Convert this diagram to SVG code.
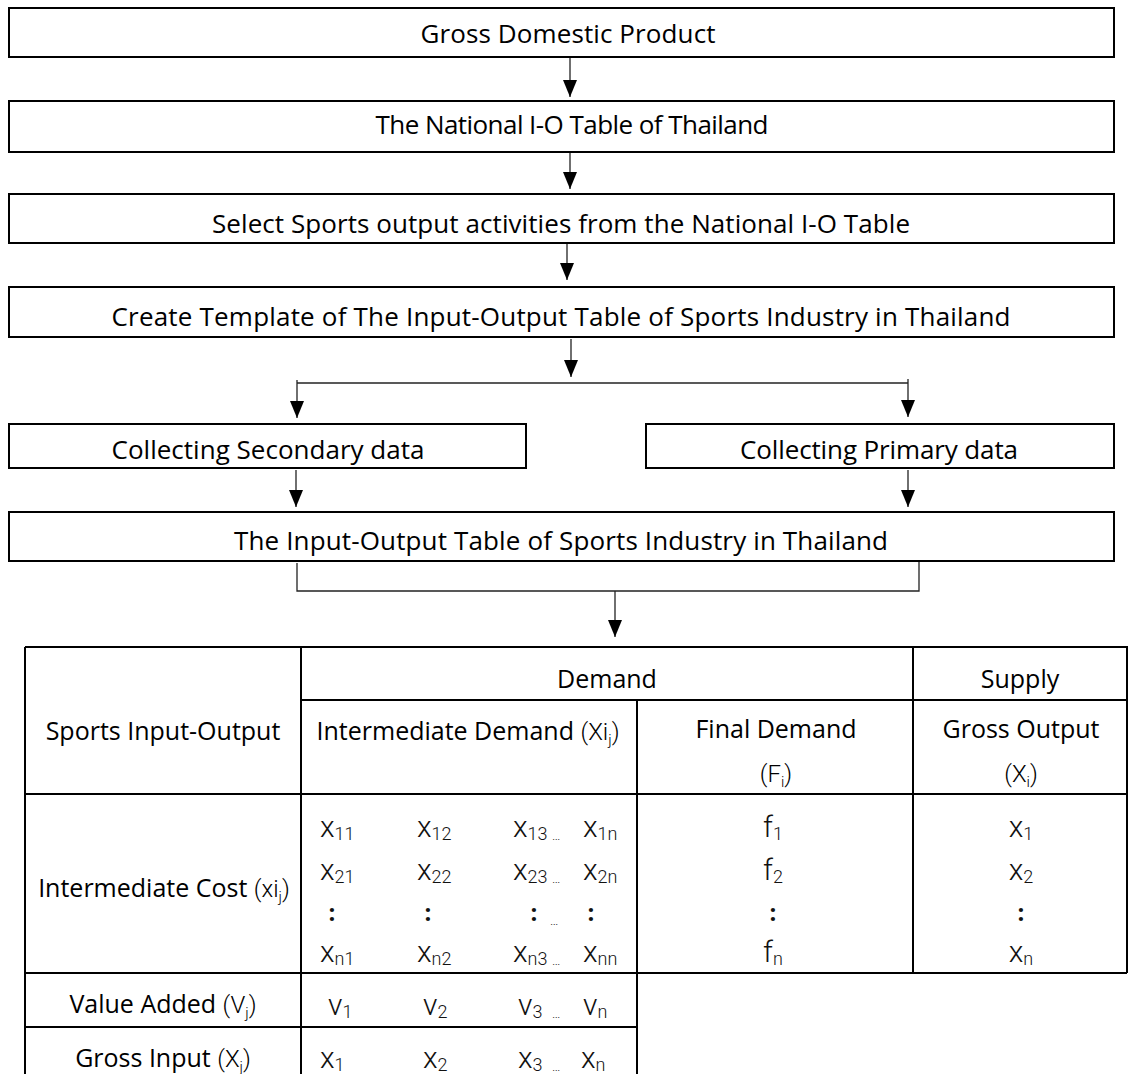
<svg xmlns="http://www.w3.org/2000/svg" width="1129" height="1074" viewBox="0 0 1129 1074">
<style>
.box{fill:#fff;stroke:#000;stroke-width:2}
.t{font-family:'Open Sans','Noto Sans','DejaVu Sans',sans-serif;font-weight:500;font-size:26px;fill:#000;text-anchor:middle}
.tl{font-family:'Open Sans','Noto Sans','DejaVu Sans',sans-serif;font-weight:500;font-size:25px;fill:#000;text-anchor:middle}
.lt{font-family:Roboto,'Open Sans',sans-serif;font-weight:300;font-size:24px}
.sb{font-family:Roboto,'Open Sans',sans-serif;font-weight:300;font-size:15px}
.d{font-family:Roboto,'Open Sans',sans-serif;font-weight:300;font-size:30px;fill:#111}
.ds{font-size:18px}
.dm{text-anchor:middle}
.el{font-family:Roboto,sans-serif;font-weight:300;font-size:13px;fill:#111}
.co{font-family:'Open Sans',sans-serif;font-weight:700;font-size:24px;fill:#111;text-anchor:middle}
.c{stroke:#222;stroke-width:1.3;fill:none}
.tb{stroke:#000;stroke-width:2;fill:none}
</style>
<defs>
<marker id="ah" viewBox="0 0 17 14" refX="17" refY="7" markerWidth="17" markerHeight="14" markerUnits="userSpaceOnUse" orient="auto">
<path d="M0,0 L17,7 L0,14 z" fill="#000"/>
</marker>
</defs>
<rect width="1129" height="1074" fill="#fff"/>

<g id="connectors">
<line class="c" x1="570" y1="58" x2="570" y2="97" marker-end="url(#ah)"/>
<line class="c" x1="570" y1="153" x2="570" y2="189" marker-end="url(#ah)"/>
<line class="c" x1="567" y1="244" x2="567" y2="280" marker-end="url(#ah)"/>
<line class="c" x1="571" y1="339" x2="571" y2="377" marker-end="url(#ah)"/>
<line class="c" x1="297" y1="383" x2="908" y2="383"/>
<line class="c" x1="297" y1="380" x2="297" y2="418" marker-end="url(#ah)"/>
<line class="c" x1="908" y1="379" x2="908" y2="417" marker-end="url(#ah)"/>
<line class="c" x1="296" y1="470" x2="296" y2="507" marker-end="url(#ah)"/>
<line class="c" x1="908" y1="470" x2="908" y2="507" marker-end="url(#ah)"/>
<path class="c" d="M297,563 V591 H919 V561"/>
<line class="c" x1="615" y1="591" x2="615" y2="637" marker-end="url(#ah)"/>
</g>

<g id="n1"><rect class="box" x="9" y="8" width="1105" height="49"/><text class="t" x="568" y="43" textLength="295">Gross Domestic Product</text></g>
<g id="n2"><rect class="box" x="9" y="101" width="1105" height="51"/><text class="t" x="572" y="134" textLength="393">The National I-O Table of Thailand</text></g>
<g id="n3"><rect class="box" x="9" y="194" width="1105" height="49"/><text class="t" x="561" y="233" textLength="698">Select Sports output activities from the National I-O Table</text></g>
<g id="n4"><rect class="box" x="9" y="287" width="1105" height="50"/><text class="t" x="561" y="326" textLength="899">Create Template of The Input-Output Table of Sports Industry in Thailand</text></g>
<g id="n5"><rect class="box" x="9" y="424" width="517" height="44"/><text class="t" x="268" y="459" textLength="313">Collecting Secondary data</text></g>
<g id="n6"><rect class="box" x="646" y="424" width="468" height="44"/><text class="t" x="879" y="459" textLength="278">Collecting Primary data</text></g>
<g id="n7"><rect class="box" x="9" y="512" width="1105" height="49"/><text class="t" x="561" y="550" textLength="654">The Input-Output Table of Sports Industry in Thailand</text></g>

<g id="table">
<path class="tb" d="M25,647 H1127 V973 M25,647 V1080 M301,647 V1080 M637,700 V1080 M913,647 V973 M301,700 H1127 M25,794 H1127 M25,973 H1127 M25,1027 H637"/>
<text class="tl" x="607" y="688">Demand</text>
<text class="tl" x="1020" y="688">Supply</text>
<text class="tl" x="163" y="740">Sports Input-Output</text>
<text class="tl" x="468" y="740">Intermediate Demand <tspan class="lt">(Xi</tspan><tspan class="sb" dy="5">j</tspan><tspan class="lt" dy="-5">)</tspan></text>
<text class="tl" x="776" y="738">Final Demand</text>
<text class="tl" x="776" y="782"><tspan class="lt">(F</tspan><tspan class="sb" dy="5">i</tspan><tspan class="lt" dy="-5">)</tspan></text>
<text class="tl" x="1021" y="738">Gross Output</text>
<text class="tl" x="1021" y="782"><tspan class="lt">(X</tspan><tspan class="sb" dy="5">i</tspan><tspan class="lt" dy="-5">)</tspan></text>

<text class="tl" x="164" y="897">Intermediate Cost <tspan class="lt">(xi</tspan><tspan class="sb" dy="5">j</tspan><tspan class="lt" dy="-5">)</tspan></text>
<text class="tl" x="163" y="1013">Value Added <tspan class="lt">(V</tspan><tspan class="sb" dy="5">j</tspan><tspan class="lt" dy="-5">)</tspan></text>
<text class="tl" x="163" y="1067">Gross Input <tspan class="lt">(X</tspan><tspan class="sb" dy="5">j</tspan><tspan class="lt" dy="-5">)</tspan></text>

<text class="d" x="320" y="837">x<tspan class="ds" dy="3">11</tspan></text>
<text class="d" x="417" y="837">x<tspan class="ds" dy="3">12</tspan></text>
<text class="d" x="513" y="837">x<tspan class="ds" dy="3">13</tspan></text>
<text class="el" x="552" y="840">…</text>
<text class="d" x="583" y="837">x<tspan class="ds" dy="3">1n</tspan></text>

<text class="d" x="320" y="880">x<tspan class="ds" dy="3">21</tspan></text>
<text class="d" x="417" y="880">x<tspan class="ds" dy="3">22</tspan></text>
<text class="d" x="513" y="880">x<tspan class="ds" dy="3">23</tspan></text>
<text class="el" x="552" y="883">…</text>
<text class="d" x="583" y="880">x<tspan class="ds" dy="3">2n</tspan></text>

<text class="co" x="332" y="921">:</text>
<text class="co" x="428" y="921">:</text>
<text class="co" x="534" y="921">:</text>
<text class="el" x="550" y="925">…</text>
<text class="co" x="591" y="921">:</text>

<text class="d" x="320" y="962">x<tspan class="ds" dy="3">n1</tspan></text>
<text class="d" x="417" y="962">x<tspan class="ds" dy="3">n2</tspan></text>
<text class="d" x="513" y="962">x<tspan class="ds" dy="3">n3</tspan></text>
<text class="el" x="552" y="965">…</text>
<text class="d" x="583" y="962">x<tspan class="ds" dy="3">nn</tspan></text>

<text class="d dm" x="773" y="837">f<tspan class="ds" dy="3">1</tspan></text>
<text class="d dm" x="773" y="880">f<tspan class="ds" dy="3">2</tspan></text>
<text class="co" x="773" y="921">:</text>
<text class="d dm" x="773" y="962">f<tspan class="ds" dy="3">n</tspan></text>
<text class="d dm" x="1021" y="837">x<tspan class="ds" dy="3">1</tspan></text>
<text class="d dm" x="1021" y="880">x<tspan class="ds" dy="3">2</tspan></text>
<text class="co" x="1021" y="921">:</text>
<text class="d dm" x="1021" y="962">x<tspan class="ds" dy="3">n</tspan></text>

<text class="d" x="328" y="1015">v<tspan class="ds" dy="3">1</tspan></text>
<text class="d" x="423" y="1015">v<tspan class="ds" dy="3">2</tspan></text>
<text class="d" x="518" y="1015">v<tspan class="ds" dy="3">3</tspan></text>
<text class="el" x="552" y="1018">…</text>
<text class="d" x="583" y="1015">v<tspan class="ds" dy="3">n</tspan></text>

<text class="d" x="320" y="1068">x<tspan class="ds" dy="3">1</tspan></text>
<text class="d" x="423" y="1068">x<tspan class="ds" dy="3">2</tspan></text>
<text class="d" x="518" y="1068">x<tspan class="ds" dy="3">3</tspan></text>
<text class="el" x="552" y="1071">…</text>
<text class="d" x="581" y="1068">x<tspan class="ds" dy="3">n</tspan></text>
</g>
</svg>
